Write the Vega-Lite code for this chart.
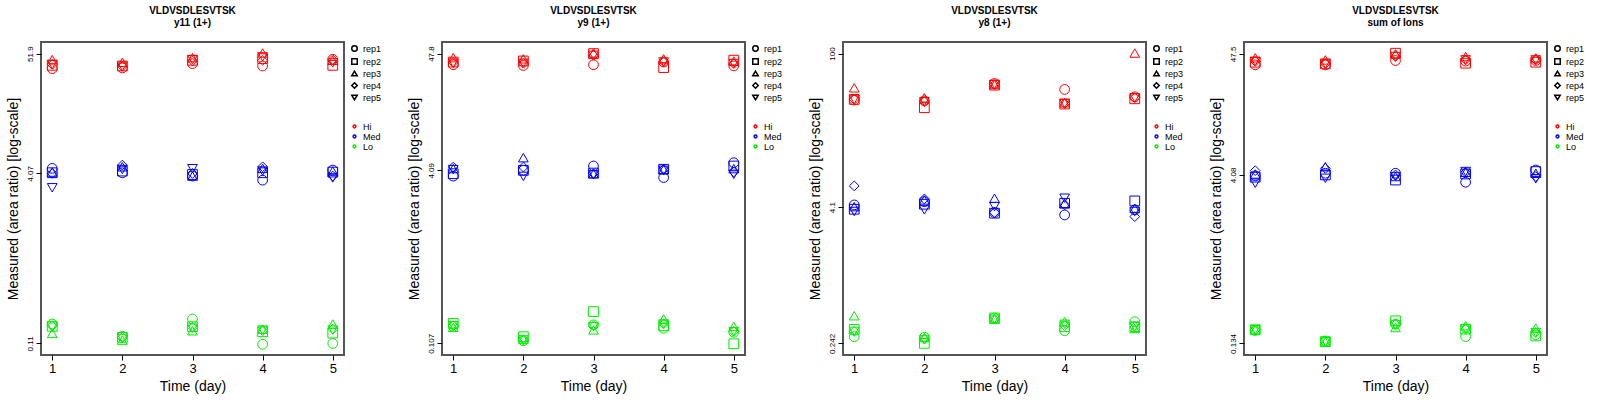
{
"$schema":"https://vega.github.io/schema/vega-lite/v6.json",
"background":"white",
"padding":{"left":5,"top":5,"right":0,"bottom":0},
"spacing":21,
"config":{"view":{"stroke":"#555","strokeWidth":2},"axis":{"grid":false,"domain":false,"tickColor":"#000","labelColor":"#000","titleColor":"#000","titleFontWeight":"normal","titleFont":"Liberation Sans","labelFont":"Liberation Sans"},"legend":{"labelFont":"Liberation Sans","labelFontSize":9,"symbolSize":30,"rowPadding":0,"padding":2,"offset":4,"labelColor":"#000"},"title":{"font":"Liberation Sans","fontSize":10,"fontWeight":"bold","anchor":"middle","color":"#000","offset":14}},
"datasets":{"d":[
{"p":1,"d":1,"r":"rep1","l":"Hi","v":37.7},{"p":1,"d":1,"r":"rep2","l":"Hi","v":40.5},{"p":1,"d":1,"r":"rep3","l":"Hi","v":45.7},{"p":1,"d":1,"r":"rep4","l":"Hi","v":41.2},{"p":1,"d":1,"r":"rep5","l":"Hi","v":41.2},
{"p":1,"d":2,"r":"rep1","l":"Hi","v":38.3},{"p":1,"d":2,"r":"rep2","l":"Hi","v":39.9},{"p":1,"d":2,"r":"rep3","l":"Hi","v":43.1},{"p":1,"d":2,"r":"rep4","l":"Hi","v":39.6},{"p":1,"d":2,"r":"rep5","l":"Hi","v":39.6},
{"p":1,"d":3,"r":"rep1","l":"Hi","v":41.9},{"p":1,"d":3,"r":"rep2","l":"Hi","v":45.0},{"p":1,"d":3,"r":"rep3","l":"Hi","v":47.6},{"p":1,"d":3,"r":"rep4","l":"Hi","v":44.4},{"p":1,"d":3,"r":"rep5","l":"Hi","v":45.7},
{"p":1,"d":4,"r":"rep1","l":"Hi","v":39.9},{"p":1,"d":4,"r":"rep2","l":"Hi","v":46.7},{"p":1,"d":4,"r":"rep3","l":"Hi","v":52.6},{"p":1,"d":4,"r":"rep4","l":"Hi","v":45.0},{"p":1,"d":4,"r":"rep5","l":"Hi","v":48.4},
{"p":1,"d":5,"r":"rep1","l":"Hi","v":46.0},{"p":1,"d":5,"r":"rep2","l":"Hi","v":40.5},{"p":1,"d":5,"r":"rep3","l":"Hi","v":45.0},{"p":1,"d":5,"r":"rep4","l":"Hi","v":45.7},{"p":1,"d":5,"r":"rep5","l":"Hi","v":42.6},
{"p":1,"d":1,"r":"rep1","l":"Med","v":4.53},{"p":1,"d":1,"r":"rep2","l":"Med","v":4.13},{"p":1,"d":1,"r":"rep3","l":"Med","v":4.19},{"p":1,"d":1,"r":"rep4","l":"Med","v":4.07},{"p":1,"d":1,"r":"rep5","l":"Med","v":3.0},
{"p":1,"d":2,"r":"rep1","l":"Med","v":4.13},{"p":1,"d":2,"r":"rep2","l":"Med","v":4.28},{"p":1,"d":2,"r":"rep3","l":"Med","v":4.69},{"p":1,"d":2,"r":"rep4","l":"Med","v":4.86},{"p":1,"d":2,"r":"rep5","l":"Med","v":4.43},
{"p":1,"d":3,"r":"rep1","l":"Med","v":3.85},{"p":1,"d":3,"r":"rep2","l":"Med","v":3.98},{"p":1,"d":3,"r":"rep3","l":"Med","v":3.85},{"p":1,"d":3,"r":"rep4","l":"Med","v":4.07},{"p":1,"d":3,"r":"rep5","l":"Med","v":4.5},
{"p":1,"d":4,"r":"rep1","l":"Med","v":3.53},{"p":1,"d":4,"r":"rep2","l":"Med","v":4.13},{"p":1,"d":4,"r":"rep3","l":"Med","v":4.53},{"p":1,"d":4,"r":"rep4","l":"Med","v":4.69},{"p":1,"d":4,"r":"rep5","l":"Med","v":4.28},
{"p":1,"d":5,"r":"rep1","l":"Med","v":4.37},{"p":1,"d":5,"r":"rep2","l":"Med","v":4.19},{"p":1,"d":5,"r":"rep3","l":"Med","v":4.28},{"p":1,"d":5,"r":"rep4","l":"Med","v":3.85},{"p":1,"d":5,"r":"rep5","l":"Med","v":3.7},
{"p":1,"d":1,"r":"rep1","l":"Lo","v":0.166},{"p":1,"d":1,"r":"rep2","l":"Lo","v":0.158},{"p":1,"d":1,"r":"rep3","l":"Lo","v":0.136},{"p":1,"d":1,"r":"rep4","l":"Lo","v":0.16},{"p":1,"d":1,"r":"rep5","l":"Lo","v":0.155},
{"p":1,"d":2,"r":"rep1","l":"Lo","v":0.128},{"p":1,"d":2,"r":"rep2","l":"Lo","v":0.125},{"p":1,"d":2,"r":"rep3","l":"Lo","v":0.118},{"p":1,"d":2,"r":"rep4","l":"Lo","v":0.125},{"p":1,"d":2,"r":"rep5","l":"Lo","v":0.122},
{"p":1,"d":3,"r":"rep1","l":"Lo","v":0.185},{"p":1,"d":3,"r":"rep2","l":"Lo","v":0.157},{"p":1,"d":3,"r":"rep3","l":"Lo","v":0.144},{"p":1,"d":3,"r":"rep4","l":"Lo","v":0.155},{"p":1,"d":3,"r":"rep5","l":"Lo","v":0.152},
{"p":1,"d":4,"r":"rep1","l":"Lo","v":0.108},{"p":1,"d":4,"r":"rep2","l":"Lo","v":0.141},{"p":1,"d":4,"r":"rep3","l":"Lo","v":0.149},{"p":1,"d":4,"r":"rep4","l":"Lo","v":0.144},{"p":1,"d":4,"r":"rep5","l":"Lo","v":0.146},
{"p":1,"d":5,"r":"rep1","l":"Lo","v":0.11},{"p":1,"d":5,"r":"rep2","l":"Lo","v":0.137},{"p":1,"d":5,"r":"rep3","l":"Lo","v":0.166},{"p":1,"d":5,"r":"rep4","l":"Lo","v":0.149},{"p":1,"d":5,"r":"rep5","l":"Lo","v":0.146},

{"p":2,"d":1,"r":"rep1","l":"Hi","v":37.8},{"p":2,"d":1,"r":"rep2","l":"Hi","v":40.0},{"p":2,"d":1,"r":"rep3","l":"Hi","v":43.9},{"p":2,"d":1,"r":"rep4","l":"Hi","v":39.7},{"p":2,"d":1,"r":"rep5","l":"Hi","v":39.0},
{"p":2,"d":2,"r":"rep1","l":"Hi","v":37.2},{"p":2,"d":2,"r":"rep2","l":"Hi","v":40.9},{"p":2,"d":2,"r":"rep3","l":"Hi","v":42.8},{"p":2,"d":2,"r":"rep4","l":"Hi","v":39.0},{"p":2,"d":2,"r":"rep5","l":"Hi","v":39.0},
{"p":2,"d":3,"r":"rep1","l":"Hi","v":37.8},{"p":2,"d":3,"r":"rep2","l":"Hi","v":47.8},{"p":2,"d":3,"r":"rep3","l":"Hi","v":48.5},{"p":2,"d":3,"r":"rep4","l":"Hi","v":46.1},{"p":2,"d":3,"r":"rep5","l":"Hi","v":46.1},
{"p":2,"d":4,"r":"rep1","l":"Hi","v":40.0},{"p":2,"d":4,"r":"rep2","l":"Hi","v":35.6},{"p":2,"d":4,"r":"rep3","l":"Hi","v":42.8},{"p":2,"d":4,"r":"rep4","l":"Hi","v":40.0},{"p":2,"d":4,"r":"rep5","l":"Hi","v":40.0},
{"p":2,"d":5,"r":"rep1","l":"Hi","v":36.9},{"p":2,"d":5,"r":"rep2","l":"Hi","v":41.6},{"p":2,"d":5,"r":"rep3","l":"Hi","v":40.9},{"p":2,"d":5,"r":"rep4","l":"Hi","v":38.7},{"p":2,"d":5,"r":"rep5","l":"Hi","v":38.7},
{"p":2,"d":1,"r":"rep1","l":"Med","v":3.62},{"p":2,"d":1,"r":"rep2","l":"Med","v":3.81},{"p":2,"d":1,"r":"rep3","l":"Med","v":4.24},{"p":2,"d":1,"r":"rep4","l":"Med","v":4.38},{"p":2,"d":1,"r":"rep5","l":"Med","v":4.15},
{"p":2,"d":2,"r":"rep1","l":"Med","v":4.09},{"p":2,"d":2,"r":"rep2","l":"Med","v":4.09},{"p":2,"d":2,"r":"rep3","l":"Med","v":5.34},{"p":2,"d":2,"r":"rep4","l":"Med","v":4.38},{"p":2,"d":2,"r":"rep5","l":"Med","v":3.6},
{"p":2,"d":3,"r":"rep1","l":"Med","v":4.48},{"p":2,"d":3,"r":"rep2","l":"Med","v":3.86},{"p":2,"d":3,"r":"rep3","l":"Med","v":3.81},{"p":2,"d":3,"r":"rep4","l":"Med","v":3.81},{"p":2,"d":3,"r":"rep5","l":"Med","v":3.73},
{"p":2,"d":4,"r":"rep1","l":"Med","v":3.51},{"p":2,"d":4,"r":"rep2","l":"Med","v":4.18},{"p":2,"d":4,"r":"rep3","l":"Med","v":4.18},{"p":2,"d":4,"r":"rep4","l":"Med","v":4.18},{"p":2,"d":4,"r":"rep5","l":"Med","v":4.09},
{"p":2,"d":5,"r":"rep1","l":"Med","v":4.8},{"p":2,"d":5,"r":"rep2","l":"Med","v":4.48},{"p":2,"d":5,"r":"rep3","l":"Med","v":4.24},{"p":2,"d":5,"r":"rep4","l":"Med","v":3.95},{"p":2,"d":5,"r":"rep5","l":"Med","v":3.76},
{"p":2,"d":1,"r":"rep1","l":"Lo","v":0.153},{"p":2,"d":1,"r":"rep2","l":"Lo","v":0.163},{"p":2,"d":1,"r":"rep3","l":"Lo","v":0.15},{"p":2,"d":1,"r":"rep4","l":"Lo","v":0.155},{"p":2,"d":1,"r":"rep5","l":"Lo","v":0.155},
{"p":2,"d":2,"r":"rep1","l":"Lo","v":0.113},{"p":2,"d":2,"r":"rep2","l":"Lo","v":0.123},{"p":2,"d":2,"r":"rep3","l":"Lo","v":0.117},{"p":2,"d":2,"r":"rep4","l":"Lo","v":0.115},{"p":2,"d":2,"r":"rep5","l":"Lo","v":0.115},
{"p":2,"d":3,"r":"rep1","l":"Lo","v":0.158},{"p":2,"d":3,"r":"rep2","l":"Lo","v":0.209},{"p":2,"d":3,"r":"rep3","l":"Lo","v":0.142},{"p":2,"d":3,"r":"rep4","l":"Lo","v":0.155},{"p":2,"d":3,"r":"rep5","l":"Lo","v":0.152},
{"p":2,"d":4,"r":"rep1","l":"Lo","v":0.147},{"p":2,"d":4,"r":"rep2","l":"Lo","v":0.155},{"p":2,"d":4,"r":"rep3","l":"Lo","v":0.179},{"p":2,"d":4,"r":"rep4","l":"Lo","v":0.161},{"p":2,"d":4,"r":"rep5","l":"Lo","v":0.161},
{"p":2,"d":5,"r":"rep1","l":"Lo","v":0.135},{"p":2,"d":5,"r":"rep2","l":"Lo","v":0.106},{"p":2,"d":5,"r":"rep3","l":"Lo","v":0.153},{"p":2,"d":5,"r":"rep4","l":"Lo","v":0.137},{"p":2,"d":5,"r":"rep5","l":"Lo","v":0.137},

{"p":3,"d":1,"r":"rep1","l":"Hi","v":38.0},{"p":3,"d":1,"r":"rep2","l":"Hi","v":38.5},{"p":3,"d":1,"r":"rep3","l":"Hi","v":49.0},{"p":3,"d":1,"r":"rep4","l":"Hi","v":38.5},{"p":3,"d":1,"r":"rep5","l":"Hi","v":38.5},
{"p":3,"d":2,"r":"rep1","l":"Hi","v":37.4},{"p":3,"d":2,"r":"rep2","l":"Hi","v":32.4},{"p":3,"d":2,"r":"rep3","l":"Hi","v":39.8},{"p":3,"d":2,"r":"rep4","l":"Hi","v":36.7},{"p":3,"d":2,"r":"rep5","l":"Hi","v":36.7},
{"p":3,"d":3,"r":"rep1","l":"Hi","v":53.6},{"p":3,"d":3,"r":"rep2","l":"Hi","v":51.8},{"p":3,"d":3,"r":"rep3","l":"Hi","v":52.5},{"p":3,"d":3,"r":"rep4","l":"Hi","v":52.5},{"p":3,"d":3,"r":"rep5","l":"Hi","v":52.5},
{"p":3,"d":4,"r":"rep1","l":"Hi","v":47.4},{"p":3,"d":4,"r":"rep2","l":"Hi","v":35.0},{"p":3,"d":4,"r":"rep3","l":"Hi","v":35.9},{"p":3,"d":4,"r":"rep4","l":"Hi","v":35.4},{"p":3,"d":4,"r":"rep5","l":"Hi","v":35.4},
{"p":3,"d":5,"r":"rep1","l":"Hi","v":40.7},{"p":3,"d":5,"r":"rep2","l":"Hi","v":39.0},{"p":3,"d":5,"r":"rep3","l":"Hi","v":101},{"p":3,"d":5,"r":"rep4","l":"Hi","v":39.8},{"p":3,"d":5,"r":"rep5","l":"Hi","v":39.8},
{"p":3,"d":1,"r":"rep1","l":"Med","v":4.3},{"p":3,"d":1,"r":"rep2","l":"Med","v":3.93},{"p":3,"d":1,"r":"rep3","l":"Med","v":4.15},{"p":3,"d":1,"r":"rep4","l":"Med","v":6.38},{"p":3,"d":1,"r":"rep5","l":"Med","v":3.75},
{"p":3,"d":2,"r":"rep1","l":"Med","v":4.6},{"p":3,"d":2,"r":"rep2","l":"Med","v":4.36},{"p":3,"d":2,"r":"rep3","l":"Med","v":4.77},{"p":3,"d":2,"r":"rep4","l":"Med","v":4.87},{"p":3,"d":2,"r":"rep5","l":"Med","v":3.88},
{"p":3,"d":3,"r":"rep1","l":"Med","v":3.67},{"p":3,"d":3,"r":"rep2","l":"Med","v":3.62},{"p":3,"d":3,"r":"rep3","l":"Med","v":4.94},{"p":3,"d":3,"r":"rep4","l":"Med","v":3.67},{"p":3,"d":3,"r":"rep5","l":"Med","v":4.15},
{"p":3,"d":4,"r":"rep1","l":"Med","v":3.49},{"p":3,"d":4,"r":"rep2","l":"Med","v":4.45},{"p":3,"d":4,"r":"rep3","l":"Med","v":4.45},{"p":3,"d":4,"r":"rep4","l":"Med","v":4.3},{"p":3,"d":4,"r":"rep5","l":"Med","v":4.94},
{"p":3,"d":5,"r":"rep1","l":"Med","v":3.88},{"p":3,"d":5,"r":"rep2","l":"Med","v":4.67},{"p":3,"d":5,"r":"rep3","l":"Med","v":4.0},{"p":3,"d":5,"r":"rep4","l":"Med","v":3.37},{"p":3,"d":5,"r":"rep5","l":"Med","v":3.75},
{"p":3,"d":1,"r":"rep1","l":"Lo","v":0.278},{"p":3,"d":1,"r":"rep2","l":"Lo","v":0.324},{"p":3,"d":1,"r":"rep3","l":"Lo","v":0.43},{"p":3,"d":1,"r":"rep4","l":"Lo","v":0.31},{"p":3,"d":1,"r":"rep5","l":"Lo","v":0.31},
{"p":3,"d":2,"r":"rep1","l":"Lo","v":0.275},{"p":3,"d":2,"r":"rep2","l":"Lo","v":0.242},{"p":3,"d":2,"r":"rep3","l":"Lo","v":0.273},{"p":3,"d":2,"r":"rep4","l":"Lo","v":0.265},{"p":3,"d":2,"r":"rep5","l":"Lo","v":0.26},
{"p":3,"d":3,"r":"rep1","l":"Lo","v":0.41},{"p":3,"d":3,"r":"rep2","l":"Lo","v":0.41},{"p":3,"d":3,"r":"rep3","l":"Lo","v":0.4},{"p":3,"d":3,"r":"rep4","l":"Lo","v":0.4},{"p":3,"d":3,"r":"rep5","l":"Lo","v":0.4},
{"p":3,"d":4,"r":"rep1","l":"Lo","v":0.315},{"p":3,"d":4,"r":"rep2","l":"Lo","v":0.342},{"p":3,"d":4,"r":"rep3","l":"Lo","v":0.38},{"p":3,"d":4,"r":"rep4","l":"Lo","v":0.35},{"p":3,"d":4,"r":"rep5","l":"Lo","v":0.36},
{"p":3,"d":5,"r":"rep1","l":"Lo","v":0.38},{"p":3,"d":5,"r":"rep2","l":"Lo","v":0.342},{"p":3,"d":5,"r":"rep3","l":"Lo","v":0.33},{"p":3,"d":5,"r":"rep4","l":"Lo","v":0.34},{"p":3,"d":5,"r":"rep5","l":"Lo","v":0.342},

{"p":4,"d":1,"r":"rep1","l":"Hi","v":38.0},{"p":4,"d":1,"r":"rep2","l":"Hi","v":40.1},{"p":4,"d":1,"r":"rep3","l":"Hi","v":43.8},{"p":4,"d":1,"r":"rep4","l":"Hi","v":40.8},{"p":4,"d":1,"r":"rep5","l":"Hi","v":40.8},
{"p":4,"d":2,"r":"rep1","l":"Hi","v":38.0},{"p":4,"d":2,"r":"rep2","l":"Hi","v":38.8},{"p":4,"d":2,"r":"rep3","l":"Hi","v":42.0},{"p":4,"d":2,"r":"rep4","l":"Hi","v":38.8},{"p":4,"d":2,"r":"rep5","l":"Hi","v":38.8},
{"p":4,"d":3,"r":"rep1","l":"Hi","v":41.5},{"p":4,"d":3,"r":"rep2","l":"Hi","v":48.1},{"p":4,"d":3,"r":"rep3","l":"Hi","v":47.5},{"p":4,"d":3,"r":"rep4","l":"Hi","v":45.0},{"p":4,"d":3,"r":"rep5","l":"Hi","v":45.0},
{"p":4,"d":4,"r":"rep1","l":"Hi","v":41.0},{"p":4,"d":4,"r":"rep2","l":"Hi","v":39.3},{"p":4,"d":4,"r":"rep3","l":"Hi","v":45.0},{"p":4,"d":4,"r":"rep4","l":"Hi","v":42.0},{"p":4,"d":4,"r":"rep5","l":"Hi","v":42.0},
{"p":4,"d":5,"r":"rep1","l":"Hi","v":41.5},{"p":4,"d":5,"r":"rep2","l":"Hi","v":40.1},{"p":4,"d":5,"r":"rep3","l":"Hi","v":43.8},{"p":4,"d":5,"r":"rep4","l":"Hi","v":42.0},{"p":4,"d":5,"r":"rep5","l":"Hi","v":42.0},
{"p":4,"d":1,"r":"rep1","l":"Med","v":4.0},{"p":4,"d":1,"r":"rep2","l":"Med","v":3.9},{"p":4,"d":1,"r":"rep3","l":"Med","v":4.16},{"p":4,"d":1,"r":"rep4","l":"Med","v":4.45},{"p":4,"d":1,"r":"rep5","l":"Med","v":3.45},
{"p":4,"d":2,"r":"rep1","l":"Med","v":4.22},{"p":4,"d":2,"r":"rep2","l":"Med","v":4.08},{"p":4,"d":2,"r":"rep3","l":"Med","v":4.82},{"p":4,"d":2,"r":"rep4","l":"Med","v":4.66},{"p":4,"d":2,"r":"rep5","l":"Med","v":3.81},
{"p":4,"d":3,"r":"rep1","l":"Med","v":4.22},{"p":4,"d":3,"r":"rep2","l":"Med","v":3.68},{"p":4,"d":3,"r":"rep3","l":"Med","v":3.95},{"p":4,"d":3,"r":"rep4","l":"Med","v":4.08},{"p":4,"d":3,"r":"rep5","l":"Med","v":3.95},
{"p":4,"d":4,"r":"rep1","l":"Med","v":3.52},{"p":4,"d":4,"r":"rep2","l":"Med","v":4.16},{"p":4,"d":4,"r":"rep3","l":"Med","v":4.31},{"p":4,"d":4,"r":"rep4","l":"Med","v":4.31},{"p":4,"d":4,"r":"rep5","l":"Med","v":4.37},
{"p":4,"d":5,"r":"rep1","l":"Med","v":4.51},{"p":4,"d":5,"r":"rep2","l":"Med","v":4.37},{"p":4,"d":5,"r":"rep3","l":"Med","v":4.22},{"p":4,"d":5,"r":"rep4","l":"Med","v":3.95},{"p":4,"d":5,"r":"rep5","l":"Med","v":3.77},
{"p":4,"d":1,"r":"rep1","l":"Lo","v":0.174},{"p":4,"d":1,"r":"rep2","l":"Lo","v":0.177},{"p":4,"d":1,"r":"rep3","l":"Lo","v":0.177},{"p":4,"d":1,"r":"rep4","l":"Lo","v":0.177},{"p":4,"d":1,"r":"rep5","l":"Lo","v":0.177},
{"p":4,"d":2,"r":"rep1","l":"Lo","v":0.141},{"p":4,"d":2,"r":"rep2","l":"Lo","v":0.139},{"p":4,"d":2,"r":"rep3","l":"Lo","v":0.139},{"p":4,"d":2,"r":"rep4","l":"Lo","v":0.141},{"p":4,"d":2,"r":"rep5","l":"Lo","v":0.139},
{"p":4,"d":3,"r":"rep1","l":"Lo","v":0.198},{"p":4,"d":3,"r":"rep2","l":"Lo","v":0.212},{"p":4,"d":3,"r":"rep3","l":"Lo","v":0.185},{"p":4,"d":3,"r":"rep4","l":"Lo","v":0.198},{"p":4,"d":3,"r":"rep5","l":"Lo","v":0.195},
{"p":4,"d":4,"r":"rep1","l":"Lo","v":0.154},{"p":4,"d":4,"r":"rep2","l":"Lo","v":0.179},{"p":4,"d":4,"r":"rep3","l":"Lo","v":0.192},{"p":4,"d":4,"r":"rep4","l":"Lo","v":0.179},{"p":4,"d":4,"r":"rep5","l":"Lo","v":0.179},
{"p":4,"d":5,"r":"rep1","l":"Lo","v":0.16},{"p":4,"d":5,"r":"rep2","l":"Lo","v":0.156},{"p":4,"d":5,"r":"rep3","l":"Lo","v":0.183},{"p":4,"d":5,"r":"rep4","l":"Lo","v":0.167},{"p":4,"d":5,"r":"rep5","l":"Lo","v":0.167}
]},
"resolve":{"scale":{"y":"independent","shape":"independent","color":"independent"},"legend":{"shape":"independent","color":"independent"}},
"hconcat":[
{"title":{"text":["VLDVSDLESVTSK","y11 (1+)"]},"width":303,"height":313,"data":{"name":"d"},"transform":[{"filter":"datum.p==1"}],"mark":{"type":"point","filled":false,"size":95,"strokeWidth":1,"opacity":1},
"encoding":{"x":{"field":"d","type":"quantitative","scale":{"domain":[0.84,5.16],"nice":false,"zero":false},"axis":{"values":[1,2,3,4,5],"title":"Time (day)","titleFontSize":14,"labelFontSize":13,"labelAngle":0,"titlePadding":4}},
"y":{"field":"v","type":"quantitative","scale":{"type":"log","domain":[0.086,66.4],"nice":false},"axis":{"values":[0.11,4.07,51.9],"labelExpr":"datum.value","title":"Measured (area ratio) [log-scale]","titleFontSize":14,"labelFontSize":8,"labelAngle":-90,"labelAlign":"center","labelBaseline":"bottom","titlePadding":6}},
"shape":{"field":"r","type":"nominal","scale":{"domain":["rep1","rep2","rep3","rep4","rep5"],"range":["circle","square","triangle-up","diamond","triangle-down"]},"legend":{"title":null,"symbolStrokeColor":"#000"}},
"color":{"field":"l","type":"nominal","scale":{"domain":["Hi","Med","Lo"],"range":["#ff0000","#0000ff","#00ee00"]},"legend":{"title":null,"symbolType":"circle","symbolSize":8,"orient":"none","legendX":307,"legendY":78}}}},
{"title":{"text":["VLDVSDLESVTSK","y9 (1+)"]},"width":303,"height":313,"data":{"name":"d"},"transform":[{"filter":"datum.p==2"}],"mark":{"type":"point","filled":false,"size":95,"strokeWidth":1,"opacity":1},
"encoding":{"x":{"field":"d","type":"quantitative","scale":{"domain":[0.84,5.16],"nice":false,"zero":false},"axis":{"values":[1,2,3,4,5],"title":"Time (day)","titleFontSize":14,"labelFontSize":13,"labelAngle":0,"titlePadding":4}},
"y":{"field":"v","type":"quantitative","scale":{"type":"log","domain":[0.0837,61.0],"nice":false},"axis":{"values":[0.107,4.09,47.8],"labelExpr":"datum.value","title":"Measured (area ratio) [log-scale]","titleFontSize":14,"labelFontSize":8,"labelAngle":-90,"labelAlign":"center","labelBaseline":"bottom","titlePadding":6}},
"shape":{"field":"r","type":"nominal","scale":{"domain":["rep1","rep2","rep3","rep4","rep5"],"range":["circle","square","triangle-up","diamond","triangle-down"]},"legend":{"title":null,"symbolStrokeColor":"#000"}},
"color":{"field":"l","type":"nominal","scale":{"domain":["Hi","Med","Lo"],"range":["#ff0000","#0000ff","#00ee00"]},"legend":{"title":null,"symbolType":"circle","symbolSize":8,"orient":"none","legendX":307,"legendY":78}}}},
{"title":{"text":["VLDVSDLESVTSK","y8 (1+)"]},"width":303,"height":313,"data":{"name":"d"},"transform":[{"filter":"datum.p==3"}],"mark":{"type":"point","filled":false,"size":95,"strokeWidth":1,"opacity":1},
"encoding":{"x":{"field":"d","type":"quantitative","scale":{"domain":[0.84,5.16],"nice":false,"zero":false},"axis":{"values":[1,2,3,4,5],"title":"Time (day)","titleFontSize":14,"labelFontSize":13,"labelAngle":0,"titlePadding":4}},
"y":{"field":"v","type":"quantitative","scale":{"type":"log","domain":[0.19,127],"nice":false},"axis":{"values":[0.242,4.1,100],"labelExpr":"datum.value","title":"Measured (area ratio) [log-scale]","titleFontSize":14,"labelFontSize":8,"labelAngle":-90,"labelAlign":"center","labelBaseline":"bottom","titlePadding":6}},
"shape":{"field":"r","type":"nominal","scale":{"domain":["rep1","rep2","rep3","rep4","rep5"],"range":["circle","square","triangle-up","diamond","triangle-down"]},"legend":{"title":null,"symbolStrokeColor":"#000"}},
"color":{"field":"l","type":"nominal","scale":{"domain":["Hi","Med","Lo"],"range":["#ff0000","#0000ff","#00ee00"]},"legend":{"title":null,"symbolType":"circle","symbolSize":8,"orient":"none","legendX":307,"legendY":78}}}},
{"title":{"text":["VLDVSDLESVTSK","sum of Ions"]},"width":303,"height":313,"data":{"name":"d"},"transform":[{"filter":"datum.p==4"}],"mark":{"type":"point","filled":false,"size":95,"strokeWidth":1,"opacity":1},
"encoding":{"x":{"field":"d","type":"quantitative","scale":{"domain":[0.84,5.16],"nice":false,"zero":false},"axis":{"values":[1,2,3,4,5],"title":"Time (day)","titleFontSize":14,"labelFontSize":13,"labelAngle":0,"titlePadding":4}},
"y":{"field":"v","type":"quantitative","scale":{"type":"log","domain":[0.106,60.4],"nice":false},"axis":{"values":[0.134,4.08,47.5],"labelExpr":"datum.value","title":"Measured (area ratio) [log-scale]","titleFontSize":14,"labelFontSize":8,"labelAngle":-90,"labelAlign":"center","labelBaseline":"bottom","titlePadding":6}},
"shape":{"field":"r","type":"nominal","scale":{"domain":["rep1","rep2","rep3","rep4","rep5"],"range":["circle","square","triangle-up","diamond","triangle-down"]},"legend":{"title":null,"symbolStrokeColor":"#000"}},
"color":{"field":"l","type":"nominal","scale":{"domain":["Hi","Med","Lo"],"range":["#ff0000","#0000ff","#00ee00"]},"legend":{"title":null,"symbolType":"circle","symbolSize":8,"orient":"none","legendX":307,"legendY":78}}}}
]
}
